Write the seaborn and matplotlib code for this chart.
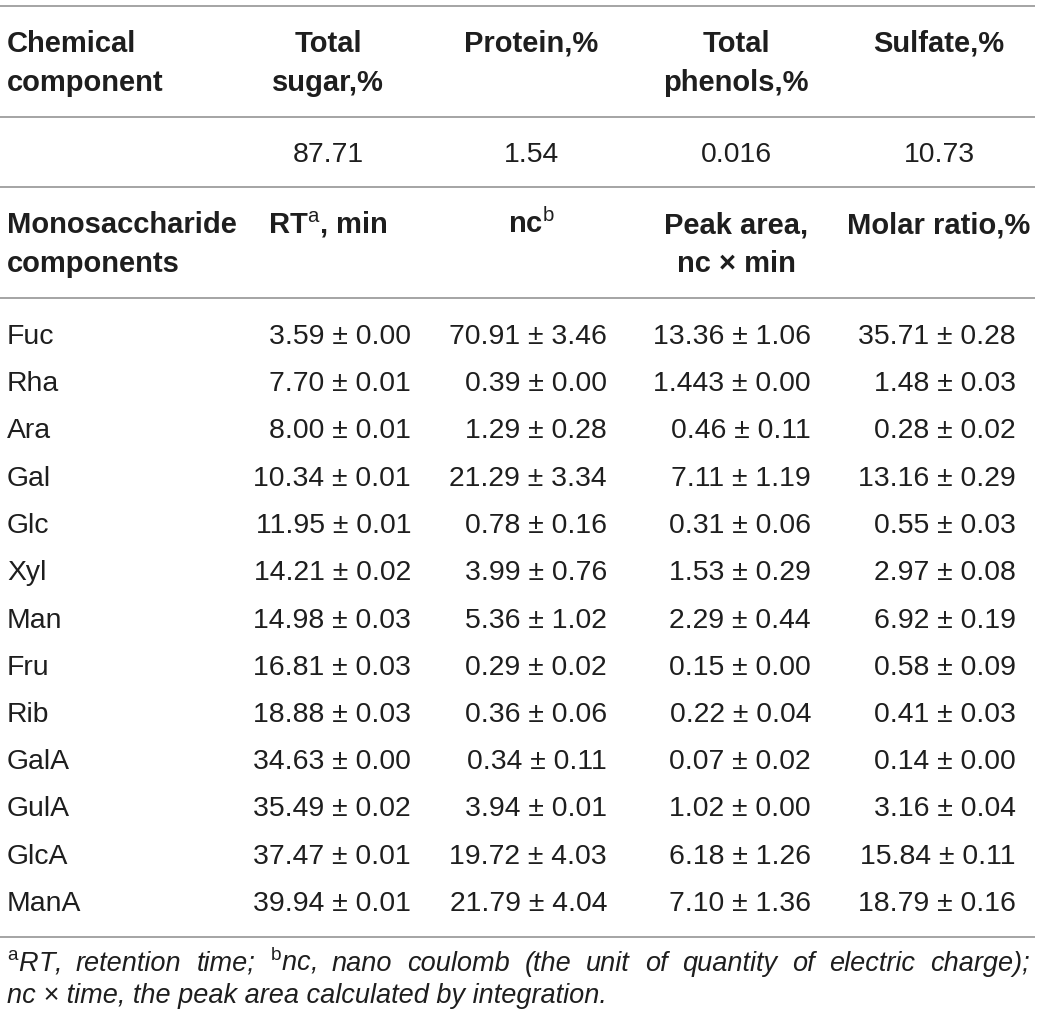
import matplotlib
matplotlib.use("Agg")
import matplotlib.pyplot as plt
import seaborn as sns

sns.set_theme(style="white")
plt.rcParams["font.family"] = ["Liberation Sans", "DejaVu Sans"]
plt.rcParams["mathtext.fontset"] = "custom"
plt.rcParams["mathtext.rm"] = "Liberation Sans"
plt.rcParams["mathtext.it"] = "Liberation Sans:italic"
plt.rcParams["mathtext.bf"] = "Liberation Sans:bold"

# ---------------- DATA ----------------
chem_headers = [["Total", "sugar,%"], ["Protein,%"], ["Total", "phenols,%"], ["Sulfate,%"]]
chem_values = ["87.71", "1.54", "0.016", "10.73"]

mono_headers = [[r"RT$^{\mathrm{a}}$, min"], [r"nc$^{\mathrm{b}}$"],
                ["Peak area,", "nc \u00d7 min"], ["Molar ratio,%"]]

sugars = ["Fuc", "Rha", "Ara", "Gal", "Glc", "Xyl", "Man", "Fru", "Rib",
          "GalA", "GulA", "GlcA", "ManA"]
rt_mean = ["3.59", "7.70", "8.00", "10.34", "11.95", "14.21", "14.98", "16.81",
           "18.88", "34.63", "35.49", "37.47", "39.94"]
rt_sd = ["0.00", "0.01", "0.01", "0.01", "0.01", "0.02", "0.03", "0.03",
         "0.03", "0.00", "0.02", "0.01", "0.01"]
nc_mean = ["70.91", "0.39", "1.29", "21.29", "0.78", "3.99", "5.36", "0.29",
           "0.36", "0.34", "3.94", "19.72", "21.79"]
nc_sd = ["3.46", "0.00", "0.28", "3.34", "0.16", "0.76", "1.02", "0.02",
         "0.06", "0.11", "0.01", "4.03", "4.04"]
area_mean = ["13.36", "1.443", "0.46", "7.11", "0.31", "1.53", "2.29", "0.15",
             "0.22", "0.07", "1.02", "6.18", "7.10"]
area_sd = ["1.06", "0.00", "0.11", "1.19", "0.06", "0.29", "0.44", "0.00",
           "0.04", "0.02", "0.00", "1.26", "1.36"]
molar_mean = ["35.71", "1.48", "0.28", "13.16", "0.55", "2.97", "6.92", "0.58",
              "0.41", "0.14", "3.16", "15.84", "18.79"]
molar_sd = ["0.28", "0.03", "0.02", "0.29", "0.03", "0.08", "0.19", "0.09",
            "0.03", "0.00", "0.04", "0.11", "0.16"]

footnote_1 = [r"$^{\mathrm{a}}$RT,", "retention", "time;", r"$^{\mathrm{b}}$nc,", "nano",
              "coulomb", "(the", "unit", "of", "quantity", "of", "electric", "charge);"]
footnote_2 = "nc \u00d7 time, the peak area calculated by integration."

# ---------------- LAYOUT ----------------
W, H = 1040, 1029
fig = plt.figure(figsize=(W / 100, H / 100), dpi=100)
ax = fig.add_axes([0, 0, 1, 1])
ax.set_xlim(0, W)
ax.set_ylim(H, 0)
ax.axis("off")

ink = "#1e1e1e"
rule = "#8c8c8c"
head_size = 21
body_size = 20.4
note_size = 19.5

col_center = [328, 531, 736, 939]
col_right = [411, 607, 811, 1016]
left_x = 7

# horizontal rules
for y in [6, 117, 187, 298, 937]:
    ax.plot([0, 1035], [y, y], color=rule, lw=1.1, solid_capstyle="butt")

# first header block
ax.text(left_x, 52, "Chemical", fontsize=head_size, weight="bold", color=ink)
ax.text(left_x, 91, "component", fontsize=head_size, weight="bold", color=ink)
for cx, lines in zip(col_center, chem_headers):
    for k, line in enumerate(lines):
        ax.text(cx, 52 + 39 * k, line, fontsize=head_size, weight="bold",
                color=ink, ha="center")
for cx, val in zip(col_center, chem_values):
    ax.text(cx, 162, val, fontsize=body_size, color=ink, ha="center")

# second header block
ax.text(left_x, 233, "Monosaccharide", fontsize=head_size, weight="bold", color=ink)
ax.text(left_x, 272, "components", fontsize=head_size, weight="bold", color=ink)
for cx, lines in zip(col_center, mono_headers):
    for k, line in enumerate(lines):
        ax.text(cx, 233 + 39 * k, line, fontsize=head_size, weight="bold",
                color=ink, ha="center")

# data rows
cols = [(rt_mean, rt_sd), (nc_mean, nc_sd), (area_mean, area_sd), (molar_mean, molar_sd)]
for i, name in enumerate(sugars):
    y = 344 + 47.25 * i
    ax.text(left_x, y, name, fontsize=body_size, color=ink)
    for rx, (means, sds) in zip(col_right, cols):
        ax.text(rx, y, f"{means[i]} \u00b1 {sds[i]}", fontsize=body_size,
                color=ink, ha="right")

# footnote, first line justified across the width
renderer = fig.canvas.get_renderer()
words = [ax.text(0, 971, w, fontsize=note_size, style="italic", color=ink)
         for w in footnote_1]
widths = [t.get_window_extent(renderer).width for t in words]
gap = (1030 - left_x - sum(widths)) / (len(words) - 1)
x = left_x
for t, w in zip(words, widths):
    t.set_x(x)
    x += w + gap
ax.text(left_x, 1003, footnote_2, fontsize=note_size, style="italic", color=ink)

fig.savefig("out.png", dpi=100)
